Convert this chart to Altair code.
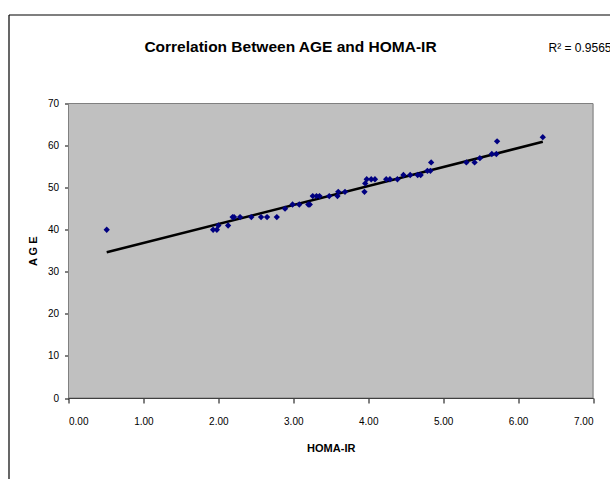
import altair as alt
import pandas as pd

# Data
homa = [0.51, 1.93, 1.98, 2.00, 2.13, 2.19, 2.21, 2.29, 2.44, 2.57, 2.65, 2.78,
        2.89, 2.99, 3.08, 3.20, 3.22, 3.26, 3.31, 3.35, 3.48, 3.59, 3.60, 3.69,
        3.95, 3.96, 3.98, 4.04, 4.09, 4.24, 4.29, 4.39, 4.47, 4.56, 4.66, 4.70,
        4.79, 4.83, 4.84, 5.31, 5.42, 5.49, 5.65, 5.71, 5.72, 6.33]
age = [40, 40, 40, 41, 41, 43, 43, 43, 43, 43, 43, 43,
       45, 46, 46, 46, 46, 48, 48, 48, 48, 48, 49, 49,
       49, 51, 52, 52, 52, 52, 52, 52, 53, 53, 53, 53,
       54, 54, 56, 56, 56, 57, 58, 58, 61, 62]

fit_x = [0.51, 6.33]
fit_y = [34.65, 60.9]

x_ticks = [0, 1, 2, 3, 4, 5, 6, 7]
y_ticks = [0, 10, 20, 30, 40, 50, 60, 70]

title_text = "Correlation Between AGE and HOMA-IR"
r2_text = "R\u00b2 = 0.9565"

FONT = "Liberation Sans Narrow, Liberation Sans, Arial, sans-serif"

pts = pd.DataFrame({"HOMA-IR": homa, "AGE": age})
fit = pd.DataFrame({"HOMA-IR": fit_x, "AGE": fit_y})

xscale = alt.Scale(domain=[0, 7], nice=False, zero=False)
yscale = alt.Scale(domain=[0, 70], nice=False)

xaxis = alt.Axis(values=x_ticks, format=".2f", title="HOMA-IR", grid=False,
                 domainColor="#000000", tickColor="#000000", tickSize=5,
                 labelPadding=13, titlePadding=16)
yaxis = alt.Axis(values=y_ticks, title="A G E", grid=False,
                 domainColor="#000000", tickColor="#000000", tickSize=4,
                 labelPadding=6, titlePadding=9)

W, H = 524.5, 294.5

one = alt.Data(values=[{}])

bg = alt.Chart(one).mark_rect(fill="#C0C0C0", stroke="#808080", strokeWidth=1).encode(
    x=alt.value(0), x2=alt.value(W), y=alt.value(0), y2=alt.value(H))

points = alt.Chart(pts).mark_point(
    shape="diamond", filled=True, color="#000080", size=40, opacity=1
).encode(
    x=alt.X("HOMA-IR:Q", scale=xscale, axis=xaxis),
    y=alt.Y("AGE:Q", scale=yscale, axis=yaxis),
)

line = alt.Chart(fit).mark_line(color="#000000", strokeWidth=2.5).encode(
    x=alt.X("HOMA-IR:Q", scale=xscale),
    y=alt.Y("AGE:Q", scale=yscale),
)

title = alt.Chart(one).mark_text(
    text=title_text, font=FONT, fontSize=15.5, fontWeight="bold",
    align="center", baseline="middle", color="#000000"
).encode(x=alt.value(222), y=alt.value(-56.5))

r2 = alt.Chart(one).mark_text(
    text=r2_text, font=FONT, fontSize=12, align="left", baseline="middle",
    color="#000000"
).encode(x=alt.value(480), y=alt.value(-56))

frame_left = alt.Chart(one).mark_rule(color="#000000", strokeWidth=1.2).encode(
    x=alt.value(-59.5), y=alt.value(-88.5), y2=alt.value(400))
frame_top = alt.Chart(one).mark_rule(color="#000000", strokeWidth=1.2).encode(
    y=alt.value(-88.5), x=alt.value(-59.5), x2=alt.value(560))

chart = alt.layer(bg, frame_left, frame_top, line, points, title, r2).properties(
    width=W,
    height=H,
    autosize=alt.AutoSizeParams(type="none"),
    padding={"left": 68.5, "top": 103.5, "right": 17, "bottom": 81},
).configure_view(
    stroke=None
).configure_axis(
    labelFont=FONT, labelFontSize=12, labelColor="#000000",
    titleFont=FONT, titleFontSize=12.5, titleFontWeight="bold", titleColor="#000000",
).configure(background="#FFFFFF")

chart.save("out.html", embed_options={"renderer": "svg", "actions": False})
